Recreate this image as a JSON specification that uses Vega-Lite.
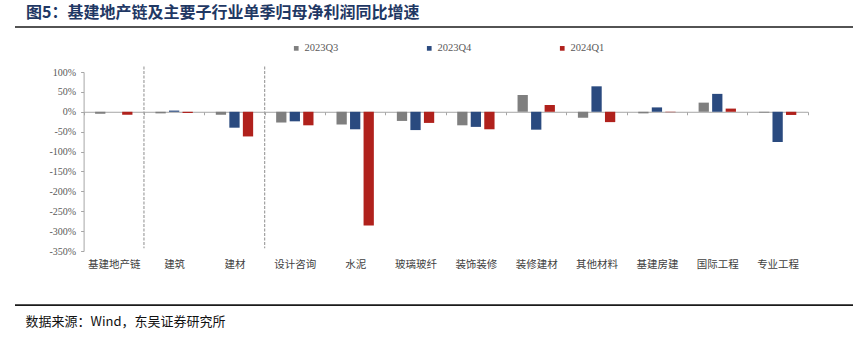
{
  "$schema": "https://vega.github.io/schema/vega-lite/v6.json",
  "autosize": "none",
  "width": 838,
  "height": 179,
  "padding": {"left": 15, "top": 72, "right": 0, "bottom": 87},
  "background": "white",
  "title": {
    "text": "图5：基建地产链及主要子行业单季归母净利润同比增速",
    "anchor": "start",
    "frame": "group",
    "dx": 11,
    "offset": 5,
    "font": "Noto Sans CJK SC",
    "fontSize": 16,
    "fontWeight": "bold",
    "color": "#1f3864"
  },
  "config": {
    "view": {"stroke": null},
    "axis": {"grid": false},
    "axisY": {"labelOverlap": false, "labelFlush": false, "labelBound": false}
  },
  "layer": [
    {
      "data": {
        "values": [
          {"cat": "基建地产链", "series": "2023Q3", "value": -5},
          {"cat": "基建地产链", "series": "2023Q4", "value": 0},
          {"cat": "基建地产链", "series": "2024Q1", "value": -7.5},
          {"cat": "建筑", "series": "2023Q3", "value": -4},
          {"cat": "建筑", "series": "2023Q4", "value": 3},
          {"cat": "建筑", "series": "2024Q1", "value": -3},
          {"cat": "建材", "series": "2023Q3", "value": -7.5},
          {"cat": "建材", "series": "2023Q4", "value": -40},
          {"cat": "建材", "series": "2024Q1", "value": -62},
          {"cat": "设计咨询", "series": "2023Q3", "value": -27},
          {"cat": "设计咨询", "series": "2023Q4", "value": -24},
          {"cat": "设计咨询", "series": "2024Q1", "value": -34},
          {"cat": "水泥", "series": "2023Q3", "value": -32},
          {"cat": "水泥", "series": "2023Q4", "value": -44},
          {"cat": "水泥", "series": "2024Q1", "value": -286},
          {"cat": "玻璃玻纤", "series": "2023Q3", "value": -23},
          {"cat": "玻璃玻纤", "series": "2023Q4", "value": -46},
          {"cat": "玻璃玻纤", "series": "2024Q1", "value": -28},
          {"cat": "装饰装修", "series": "2023Q3", "value": -34},
          {"cat": "装饰装修", "series": "2023Q4", "value": -38},
          {"cat": "装饰装修", "series": "2024Q1", "value": -44},
          {"cat": "装修建材", "series": "2023Q3", "value": 42},
          {"cat": "装修建材", "series": "2023Q4", "value": -45},
          {"cat": "装修建材", "series": "2024Q1", "value": 17},
          {"cat": "其他材料", "series": "2023Q3", "value": -15},
          {"cat": "其他材料", "series": "2023Q4", "value": 64},
          {"cat": "其他材料", "series": "2024Q1", "value": -26},
          {"cat": "基建房建", "series": "2023Q3", "value": -4},
          {"cat": "基建房建", "series": "2023Q4", "value": 11},
          {"cat": "基建房建", "series": "2024Q1", "value": -1},
          {"cat": "国际工程", "series": "2023Q3", "value": 23},
          {"cat": "国际工程", "series": "2023Q4", "value": 45},
          {"cat": "国际工程", "series": "2024Q1", "value": 8},
          {"cat": "专业工程", "series": "2023Q3", "value": -2},
          {"cat": "专业工程", "series": "2023Q4", "value": -76},
          {"cat": "专业工程", "series": "2024Q1", "value": -8}
        ]
      },
      "mark": {"type": "bar"},
      "encoding": {
        "x": {
          "field": "cat",
          "type": "nominal",
          "sort": null,
          "scale": {
            "domain": ["基建地产链", "建筑", "建材", "设计咨询", "水泥", "玻璃玻纤", "装饰装修", "装修建材", "其他材料", "基建房建", "国际工程", "专业工程"],
            "range": [68.6, 792.8],
            "paddingInner": 0,
            "paddingOuter": 0
          },
          "axis": {
            "orient": "bottom",
            "offset": -139.22,
            "domainColor": "#a6a6a6",
            "domainWidth": 1,
            "tickBand": "extent",
            "tickColor": "#a6a6a6",
            "tickSize": 3,
            "labelAngle": 0,
            "labelOverlap": false,
            "labelPadding": 145,
            "labelFont": "Noto Sans CJK SC",
            "labelFontSize": 10.5,
            "labelColor": "#404040",
            "title": "数据来源：Wind，东吴证券研究所",
            "titleX": 10,
            "titleY": 210,
            "titleAlign": "left",
            "titleAnchor": null,
            "titleBaseline": "middle",
            "titleFont": "Noto Sans CJK SC",
            "titleFontSize": 13,
            "titleFontWeight": "normal",
            "titleColor": "#111111"
          }
        },
        "xOffset": {
          "field": "series",
          "type": "nominal",
          "scale": {"paddingInner": 0.24, "paddingOuter": 0.85}
        },
        "y": {
          "field": "value",
          "type": "quantitative",
          "scale": {"domain": [-350, 100], "nice": false, "zero": false},
          "axis": {
            "orient": "left",
            "offset": -68.6,
            "values": [100, 50, 0, -50, -100, -150, -200, -250, -300, -350],
            "tickCount": 20,
            "labelExpr": "datum.value + '%'",
            "labelOverlap": false,
            "labelFlush": false,
            "domainColor": "#a6a6a6",
            "tickColor": "#a6a6a6",
            "tickSize": 3,
            "labelPadding": 5,
            "labelFont": "Liberation Serif",
            "labelFontSize": 10,
            "labelColor": "#595959",
            "title": null
          }
        },
        "color": {
          "field": "series",
          "type": "nominal",
          "scale": {"domain": ["2023Q3", "2023Q4", "2024Q1"], "range": ["#7f7f7f", "#2a4a7f", "#b0211c"]},
          "legend": {
            "title": null,
            "orient": "none",
            "direction": "horizontal",
            "legendX": 276,
            "legendY": -29,
            "padding": 0,
            "symbolType": "square",
            "symbolSize": 22,
            "symbolStrokeWidth": 0,
            "labelOffset": 3,
            "columnPadding": 85,
            "labelFont": "Liberation Serif",
            "labelFontSize": 10.5,
            "labelColor": "#595959"
          }
        }
      }
    },
    {
      "data": {"values": [{"cat": "建筑"}, {"cat": "设计咨询"}]},
      "mark": {"type": "rule", "stroke": "#a0a0a0", "strokeWidth": 1.2, "strokeDash": [3, 1.5]},
      "encoding": {
        "x": {"field": "cat", "type": "nominal", "bandPosition": 0},
        "y": {"datum": 114},
        "y2": {"datum": -343}
      }
    },
    {
      "data": {"values": [{"line": "top"}]},
      "mark": {"type": "rule", "stroke": "#1a1a1a", "strokeWidth": 1.6},
      "encoding": {"y": {"datum": 213}}
    },
    {
      "data": {"values": [{"line": "bottom"}]},
      "mark": {"type": "rule", "stroke": "#1a1a1a", "strokeWidth": 1.6},
      "encoding": {"y": {"datum": -486}}
    }
  ]
}
